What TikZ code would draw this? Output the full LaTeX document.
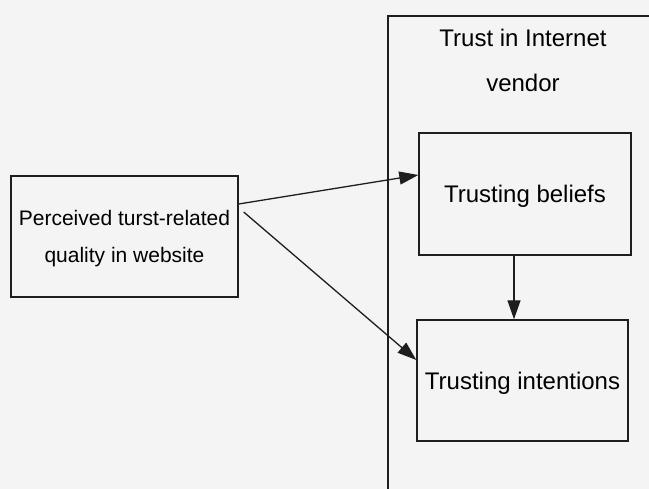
\documentclass[tikz,border=0pt]{standalone}
\usepackage{fontspec}
\setmainfont{Liberation Sans}
\usetikzlibrary{arrows.meta,calc}
\definecolor{paper}{HTML}{F4F4F4}
\definecolor{ink}{HTML}{1E1E1E}
\begin{document}
\begin{tikzpicture}[x=1pt,y=-1pt,
  box/.style={draw=ink,line width=1.4pt,minimum width=#1,inner sep=0pt,align=center,text=black},
  link/.style={draw=ink,line width=1.3pt,-{Triangle[length=19pt,width=13pt]}}]
  \useasboundingbox[fill=paper] (0,0) rectangle (649,489);
  \clip (0,0) rectangle (649,489);

  % container: trust in the Internet vendor
  \draw[ink,line width=1.4pt] (388,16) rectangle (700,540);
  \node[text=black,font=\fontsize{24}{45}\selectfont,align=center,anchor=base]
    (title) at (523,92) {Trust in Internet\\vendor};

  % antecedent
  \node[box=227pt,minimum height=121pt,text depth=0pt,font=\fontsize{21}{37}\selectfont]
    (quality) at (124.5,236.5) {Perceived turst-related\\quality in website};

  % trust components
  \node[box=212pt,minimum height=122pt,text depth=0pt,font=\fontsize{24}{28}\selectfont]
    (beliefs) at (525,194) {Trusting beliefs};
  \node[box=211pt,minimum height=121pt,text depth=0pt,font=\fontsize{24}{28}\selectfont]
    (intentions) at (522.5,380.5) {Trusting intentions};

  % connectors
  \coordinate (q1) at ($(quality.east)+(0,-32.5)$);
  \coordinate (q2) at ($(quality.east)+(5,-24.5)$);
  \draw[link] (q1) -- (beliefs.west |- 0,175);
  \draw[link] (q2) -- (intentions.west |- 0,360);
  \draw[link] (beliefs.south -| 514,0) -- (intentions.north -| 514,0);
\end{tikzpicture}
\end{document}
